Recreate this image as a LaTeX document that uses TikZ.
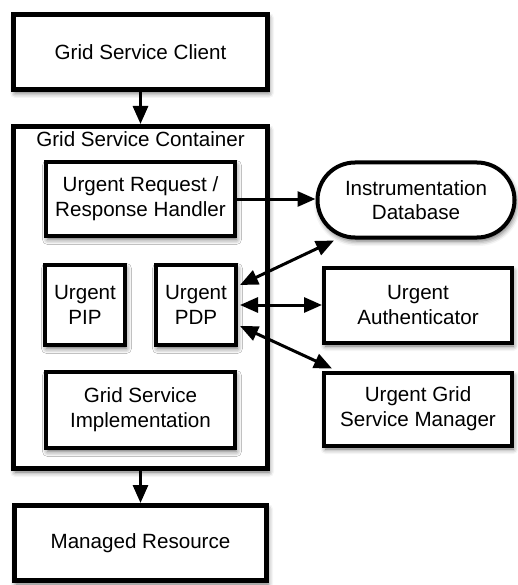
\documentclass[tikz,border=0pt]{standalone}
\usepackage{fontspec}
\setmainfont{Liberation Sans}
\usetikzlibrary{arrows.meta,shadows.blur,shapes.misc}

\tikzset{
  softshadow/.style={blur shadow={shadow xshift=1.5pt,shadow yshift=-3.5pt,shadow blur radius=5pt,shadow opacity=60}},
  box/.style={draw=black,fill=white,line width=4pt,rectangle,align=center,
    inner sep=0pt,softshadow,font=\fontsize{20.6}{24.7}\selectfont},
  outerbox/.style={box,line width=5pt},
  pill/.style={box,rounded rectangle},
  flow/.style={line width=3pt,-{Triangle[length=18pt,width=15pt]}},
  biflow/.style={line width=3pt,{Triangle[length=18pt,width=15pt]}-{Triangle[length=18pt,width=15pt]}},
}

\begin{document}
\begin{tikzpicture}[x=1pt,y=1pt]
  \useasboundingbox (0,0) rectangle (518,-585);
  \begin{scope}
  \clip (0,0) rectangle (518,-585);

  % top and bottom boxes
  \node[outerbox,minimum width=254,minimum height=75] (client) at (140.5,-52) {Grid Service Client};
  \node[outerbox,minimum width=252,minimum height=75] (managed) at (140.5,-543) {Managed Resource};

  % container and its parts
  \node[outerbox,minimum width=254,minimum height=342] (container) at (140.5,-297.5) {};
  \node[font=\fontsize{20.6}{24.7}\selectfont,anchor=base] (ctitle) at (140.5,-147) {Grid Service Container};
  \node[box,minimum width=189,minimum height=74] (handler) at (140.5,-199) {Urgent Request /\\Response Handler};
  \node[box,minimum width=80,minimum height=80] (pip) at (85,-305) {Urgent\\PIP};
  \node[box,minimum width=80,minimum height=80] (pdp) at (196,-305) {Urgent\\PDP};
  \node[box,minimum width=189,minimum height=76] (impl) at (140.5,-410) {Grid Service\\Implementation};

  % external services
  \node[pill,minimum width=197,minimum height=75] (db) at (416,-200) {Instrumentation\\Database};
  \node[box,minimum width=188,minimum height=75] (auth) at (418,-305) {Urgent\\Authenticator};
  \node[box,minimum width=188,minimum height=73] (mgr) at (418,-409) {Urgent Grid\\Service Manager};

  % connectors
  \draw[flow] (client.south) -- (container.north);
  \draw[flow] (container.south) -- (managed.north);
  \draw[flow] (handler.east) -- (handler.east -| db.west);
  \draw[biflow] ([xshift=2pt,yshift=20pt]pdp.east) -- ([xshift=-82pt,yshift=-1pt]db.south);
  \draw[biflow] ([xshift=2pt]pdp.east) -- (pdp.east -| auth.west);
  \draw[biflow] ([xshift=2pt,yshift=-21pt]pdp.east) -- ([xshift=10pt,yshift=2pt]mgr.north west);
  \end{scope}
\end{tikzpicture}
\end{document}
